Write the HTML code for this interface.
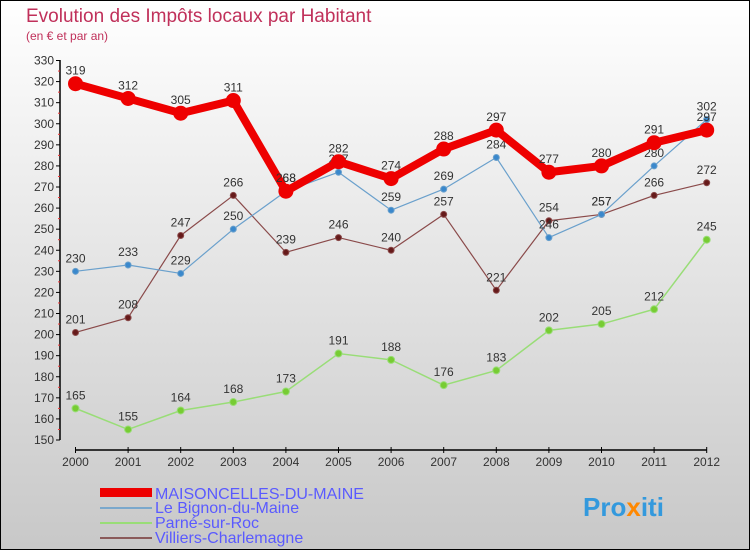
<!DOCTYPE html>
<html><head><meta charset="utf-8"><style>
body{margin:0;}
#c{width:750px;height:550px;position:relative;overflow:hidden;font-family:"Liberation Sans",sans-serif;}
</style></head><body>
<div id="c">
<svg id="svg" width="750" height="550" xmlns="http://www.w3.org/2000/svg">
<defs><linearGradient id="bg" x1="0" y1="0" x2="0" y2="1"><stop offset="0" stop-color="#ffffff"/><stop offset="1" stop-color="#c8c8c8"/></linearGradient></defs>
<rect x="0.5" y="0.5" width="749" height="549" fill="url(#bg)" stroke="#000"/>
<text x="26" y="22" font-size="19" fill="#c0305a">Evolution des Impôts locaux par Habitant</text>
<text x="26" y="40" font-size="12" fill="#c0305a">(en € et par an)</text>
<g id="axes"></g><g id="series"></g>
<g>
<rect x="100" y="488" width="52" height="9" fill="#e00"/>
<text x="155" y="499" font-size="16" fill="#5a5aff">MAISONCELLES-DU-MAINE</text>
<rect x="100" y="507" width="52" height="2" fill="#7aa8cc"/>
<text x="155" y="513" font-size="16" fill="#5a5aff">Le Bignon-du-Maine</text>
<rect x="100" y="522" width="52" height="2" fill="#99dd77"/>
<text x="155" y="528" font-size="16" fill="#5a5aff">Parné-sur-Roc</text>
<rect x="100" y="537" width="52" height="2" fill="#8a5a5a"/>
<text x="155" y="543" font-size="16" fill="#5a5aff">Villiers-Charlemagne</text>
</g>
<text x="583" y="516" font-size="26" font-weight="bold" fill="#3399dd">Pro<tspan fill="#ff8800">x</tspan>iti</text>
</svg>
</div>
<script>
const years=[2000,2001,2002,2003,2004,2005,2006,2007,2008,2009,2010,2011,2012];
const maison=[319,312,305,311,268,282,274,288,297,277,280,291,297];
const bignon=[230,233,229,250,268,277,259,269,284,246,257,280,302];
const parne=[165,155,164,168,173,191,188,176,183,202,205,212,245];
const villiers=[201,208,247,266,239,246,240,257,221,254,257,266,272];
const yTicks=[150,160,170,180,190,200,210,220,230,240,250,260,270,280,290,300,310,320,330];
const NS="http://www.w3.org/2000/svg";
const xS=i=>75.5+i*52.6;
const yS=v=>440-(v-150)*(379.5/180);
function mk(t,a,p){const e=document.createElementNS(NS,t);for(const k in a)e.setAttribute(k,a[k]);p.appendChild(e);return e;}
const ax=document.getElementById('axes');
let l=mk('line',{x1:60,y1:60,x2:60,y2:440,stroke:'#000','stroke-width':1.5},ax);


l=mk('line',{x1:75,y1:450,x2:707,y2:450,stroke:'#000','stroke-width':1.5},ax);


yTicks.forEach(v=>{
 mk('line',{x1:56,y1:yS(v),x2:60,y2:yS(v),stroke:'#000'},ax);
 if(v<330) mk('line',{x1:58,y1:yS(v+5),x2:60,y2:yS(v+5),stroke:'#e33'},ax);
 const t=mk('text',{x:54,y:yS(v)+4,'font-size':12,'text-anchor':'end',fill:'#333'},ax);t.textContent=v;
 
 
});
years.forEach((y,i)=>{
 mk('line',{x1:xS(i),y1:447,x2:xS(i),y2:453,stroke:'#000'},ax);
 const t=mk('text',{x:xS(i),y:466,'font-size':12,'text-anchor':'middle',fill:'#333'},ax);t.textContent=y;
 
 
});
const sg=document.getElementById('series');
function draw(vals,color,w,r,mcol,name){
 const g=mk('g',{},sg);
 
 
 mk('polyline',{points:vals.map((v,i)=>xS(i)+','+yS(v)).join(' '),fill:'none',stroke:color,'stroke-width':w,'stroke-linejoin':'round'},g);
 vals.forEach((v,i)=>{
  const c=mk('circle',{cx:xS(i),cy:yS(v),r:r,fill:mcol,stroke:color,'stroke-width':1},g);
  
  
  const t=mk('text',{x:xS(i),y:yS(v)-9,'font-size':12,'text-anchor':'middle',fill:'#333'},g);t.textContent=v;
 });
}
draw(parne,'#99dd77',1.5,3.5,'#77cc33','series-parne');
draw(villiers,'#8a4a4a',1.2,3,'#661a1a','series-villiers');
draw(bignon,'#6aa0cc',1.2,3,'#3a88cc','series-bignon');
draw(maison,'#ee0000',8,7,'#ee0000','series-maisoncelles');
</script>
</body></html>
